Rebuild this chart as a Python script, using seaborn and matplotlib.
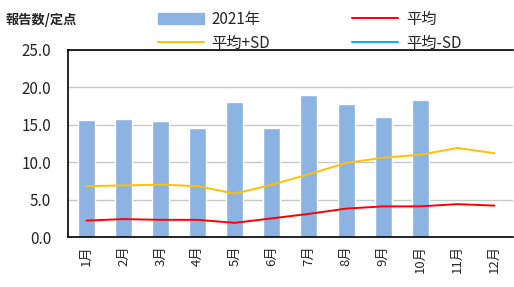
import numpy as np
import pandas as pd
import matplotlib
matplotlib.use("Agg")
import matplotlib.pyplot as plt
import seaborn as sns
from matplotlib.patches import Patch
from matplotlib.lines import Line2D

months = ['1月', '2月', '3月', '4月', '5月', '6月', '7月', '8月', '9月', '10月', '11月', '12月']
counts_2021 = [15.6, 15.8, 15.5, 14.6, 18.0, 14.6, 19.0, 17.8, 16.1, 18.3, np.nan, np.nan]
mean = [2.2, 2.4, 2.3, 2.3, 1.9, 2.5, 3.1, 3.8, 4.1, 4.1, 4.4, 4.2]
mean_plus_sd = [6.8, 6.9, 7.0, 6.8, 5.8, 7.0, 8.4, 9.9, 10.6, 11.0, 11.9, 11.2]

sns.set_style("white")
plt.rcParams['font.family'] = ['Noto Sans CJK JP', 'DejaVu Sans']

df = pd.DataFrame({'month': months, 'count': counts_2021,
                   'mean': mean, 'plus_sd': mean_plus_sd})

fig = plt.figure(figsize=(5.14, 2.87), dpi=100)
ax = fig.add_axes([0.132, 0.174, 0.866, 0.652])

sns.barplot(data=df, x='month', y='count', order=months, color='#8db3e2',
            saturation=1, width=0.46, ax=ax)
sns.lineplot(data=df, x='month', y='plus_sd', color='#ffc000', lw=1.4, ax=ax)
sns.lineplot(data=df, x='month', y='mean', color='#ff0000', lw=1.4, ax=ax)

ax.set_xlim(-0.5, 11.5)
ax.set_ylim(0, 25)
ax.set_yticks(np.arange(0, 25.1, 5))
ax.set_yticklabels([f'{v:.1f}' for v in np.arange(0, 25.1, 5)], fontsize=11)
ax.yaxis.grid(True, color='#c8c8c8', lw=1)
ax.set_axisbelow(True)
ax.set_xlabel('')
ax.set_ylabel('')

ax.set_xticks(range(12))
ax.set_xticklabels(months, rotation=90, fontsize=9.5)
ax.set_xticks(np.arange(0.5, 11.5, 1), minor=True)
ax.tick_params(axis='x', which='major', length=0, pad=6)
ax.tick_params(axis='x', which='minor', direction='in', length=4, width=1, color='black')
ax.tick_params(axis='y', length=0, pad=12)

for side in ['left', 'bottom', 'top']:
    ax.spines[side].set_color('black')
    ax.spines[side].set_linewidth(1.2)
ax.spines['right'].set_visible(False)

fig.text(0.01, 0.93, '報告数/定点', fontsize=9.5, fontweight='bold', va='center')

# legend: row 1 = 2021年 / 平均, row 2 = 平均+SD / 平均-SD
handles = [Patch(color='#8db3e2'),
           Line2D([], [], color='#ffc000', lw=1.4),
           Line2D([], [], color='#ff0000', lw=1.4),
           Line2D([], [], color='#00b0f0', lw=1.4)]
labels = ['2021年', '平均+SD', '平均', '平均-SD']
fig.legend(handles, labels, ncol=2, loc='upper left', bbox_to_anchor=(0.28, 1.01),
           frameon=False, fontsize=11, handlelength=3.0, handleheight=0.8,
           columnspacing=5.4, labelspacing=0.45, handletextpad=0.5)

fig.savefig('out.png', dpi=100)
